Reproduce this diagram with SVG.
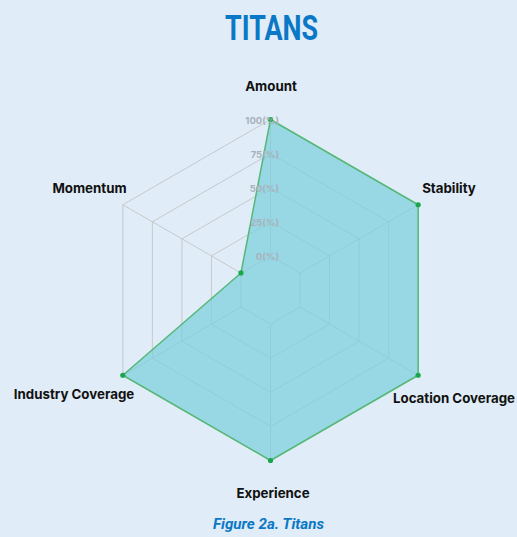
<svg xmlns="http://www.w3.org/2000/svg" width="517" height="537" viewBox="0 0 517 537">
<style>
.grid{fill:none;stroke:#c6c9cc;stroke-width:1}
.lbl{font-family:Inter,"Liberation Sans",sans-serif;font-weight:700;font-size:13.3px;fill:#111;text-anchor:middle}
.tick{font-family:Inter,"Liberation Sans",sans-serif;font-weight:700;font-size:9.5px;fill:#a9b2bb;text-anchor:end}
.dot{fill:#1aa64b}
</style>
<rect width="517" height="537" fill="#e0ecf7"/>
<g id="title"><text x="271.5" y="40" font-family="Roboto,'Liberation Sans',sans-serif" font-weight="700" font-size="35" fill="#0a78c6" text-anchor="middle" textLength="93" lengthAdjust="spacingAndGlyphs">TITANS</text></g>
<g id="grid">
<polygon class="grid" points="270.5,255.9 300.03,272.95 300.03,307.05 270.5,324.1 240.97,307.05 240.97,272.95"/>
<polygon class="grid" points="270.5,221.8 329.56,255.9 329.56,324.1 270.5,358.2 211.44,324.1 211.44,255.9"/>
<polygon class="grid" points="270.5,187.7 359.09,238.85 359.09,341.15 270.5,392.3 181.91,341.15 181.91,238.85"/>
<polygon class="grid" points="270.5,153.6 388.62,221.8 388.62,358.2 270.5,426.4 152.38,358.2 152.38,221.8"/>
<polygon class="grid" points="270.5,119.5 418.16,204.75 418.16,375.25 270.5,460.5 122.84,375.25 122.84,204.75"/>
<path class="grid" d="M270.5,255.9V119.5M300.03,272.95L418.16,204.75M300.03,307.05L418.16,375.25M270.5,324.1V460.5M240.97,307.05L122.84,375.25M240.97,272.95L122.84,204.75"/>
</g>
<g id="series">
<polygon points="270.5,119.5 418.16,204.75 418.16,375.25 270.5,460.5 122.84,375.25 240.97,272.95" fill="#79cfdc" fill-opacity="0.7" stroke="#55b877" stroke-width="1.5" stroke-linejoin="round"/>
<circle class="dot" cx="270.5" cy="119.5" r="2.6"/>
<circle class="dot" cx="418.16" cy="204.75" r="2.6"/>
<circle class="dot" cx="418.16" cy="375.25" r="2.6"/>
<circle class="dot" cx="270.5" cy="460.5" r="2.6"/>
<circle class="dot" cx="122.84" cy="375.25" r="2.6"/>
<circle class="dot" cx="240.97" cy="272.95" r="2.6"/>
</g>
<g id="ticks">
<text class="tick" x="279" y="124">100(%)</text>
<text class="tick" x="279" y="157.5">75(%)</text>
<text class="tick" x="279" y="192">50(%)</text>
<text class="tick" x="279" y="225.5">25(%)</text>
<text class="tick" x="279" y="259.5">0(%)</text>
</g>
<g id="labels">
<text class="lbl" x="271" y="91">Amount</text>
<text class="lbl" x="449" y="192.5">Stability</text>
<text class="lbl" x="454" y="403">Location Coverage</text>
<text class="lbl" x="273" y="497.5">Experience</text>
<text class="lbl" x="74" y="398.5">Industry Coverage</text>
<text class="lbl" x="89.5" y="192.5">Momentum</text>
</g>
<g id="caption"><text x="268.5" y="529" font-family="Roboto,'Liberation Sans',sans-serif" font-weight="700" font-style="italic" font-size="15" fill="#0a78c6" text-anchor="middle" textLength="111" lengthAdjust="spacingAndGlyphs">Figure 2a. Titans</text></g>
</svg>
